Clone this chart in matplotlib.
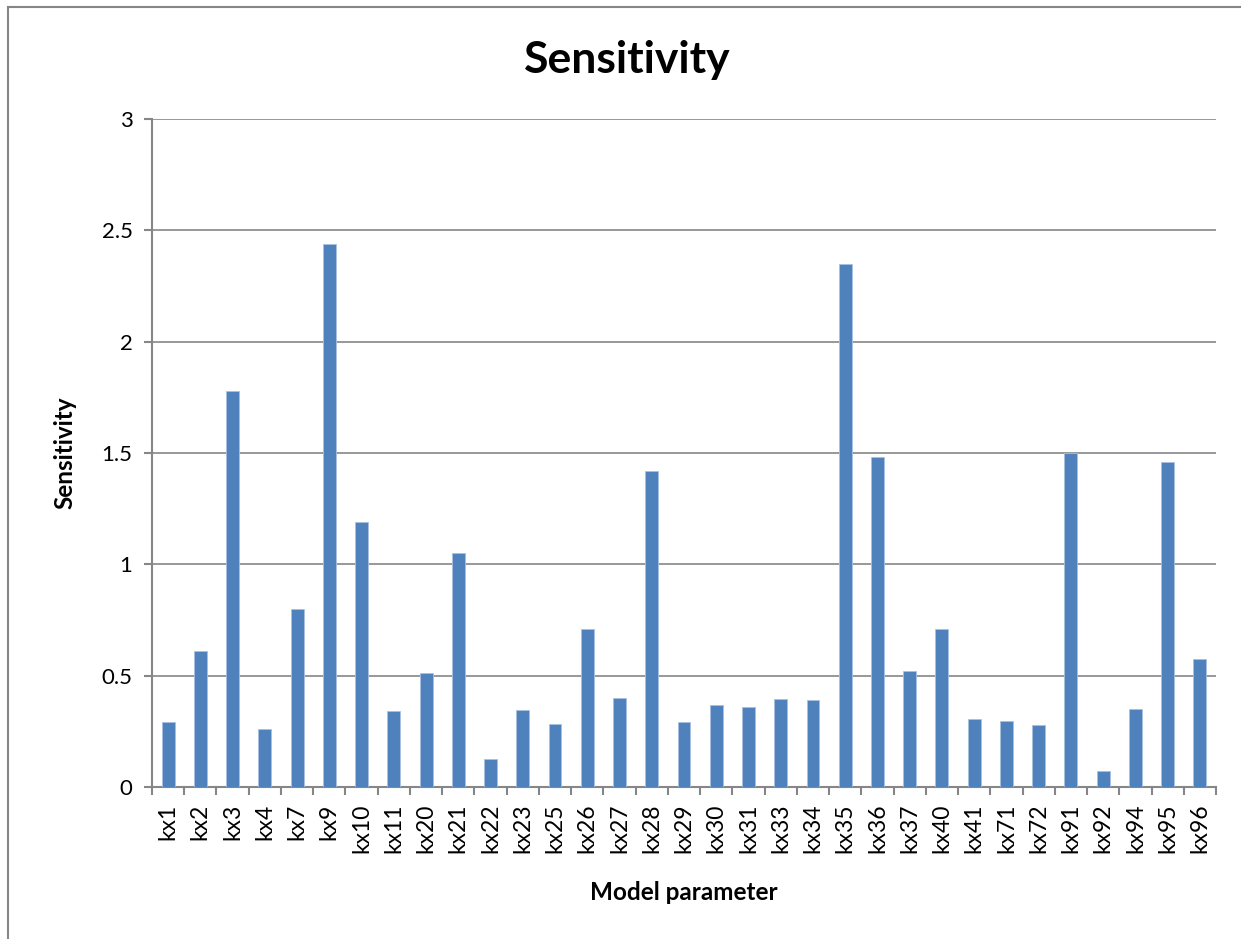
import numpy as np
import matplotlib.pyplot as plt
from matplotlib.lines import Line2D

params = ['kx1', 'kx2', 'kx3', 'kx4', 'kx7', 'kx9', 'kx10', 'kx11', 'kx20', 'kx21',
          'kx22', 'kx23', 'kx25', 'kx26', 'kx27', 'kx28', 'kx29', 'kx30', 'kx31', 'kx33',
          'kx34', 'kx35', 'kx36', 'kx37', 'kx40', 'kx41', 'kx71', 'kx72', 'kx91', 'kx92',
          'kx94', 'kx95', 'kx96']
sens = [0.29, 0.61, 1.78, 0.26, 0.80, 2.44, 1.19, 0.34, 0.51, 1.05,
        0.125, 0.346, 0.283, 0.71, 0.40, 1.42, 0.29, 0.368, 0.36, 0.395,
        0.39, 2.35, 1.48, 0.52, 0.71, 0.305, 0.296, 0.28, 1.50, 0.07,
        0.35, 1.46, 0.575]

plt.rcParams['font.family'] = ['Lato', 'DejaVu Sans']
grey = '#868686'

fig = plt.figure(figsize=(12.41, 9.39), dpi=100)
ax = fig.add_axes([152 / 1241, 1 - 787 / 939, (1216 - 152) / 1241, (787 - 119) / 939])

x = np.arange(len(params))
ax.bar(x, sens, width=0.4, color='#4F81BD', edgecolor='#A9C1E0', linewidth=0.6, zorder=3)

ax.set_xlim(-0.5, len(params) - 0.5)
ax.set_ylim(0, 3)
ax.set_yticks([0, 0.5, 1, 1.5, 2, 2.5, 3])
ax.set_yticklabels(['0', '0.5', '1', '1.5', '2', '2.5', '3'], fontsize=16)
ax.yaxis.grid(True, color=grey, linewidth=1.2, zorder=0)

ax.set_xticks(x)
ax.set_xticklabels(params, rotation=90, fontsize=16.5)
ax.tick_params(axis='x', length=0, pad=12)
ax.set_xticks(np.arange(len(params) + 1) - 0.5, minor=True)
ax.tick_params(axis='x', which='minor', length=6, width=1.5, color=grey)
ax.tick_params(axis='y', length=6, width=1.5, color=grey, pad=8)

for s in ['top', 'right']:
    ax.spines[s].set_visible(False)
for s in ['left', 'bottom']:
    ax.spines[s].set_color(grey)
    ax.spines[s].set_linewidth(1.5)

ax.set_xlabel('Model parameter', fontsize=17.5, fontweight='bold', labelpad=20)
ax.set_ylabel('Sensitivity', fontsize=17.5, fontweight='bold', labelpad=18)
fig.text(627 / 1241, 1 - 60 / 939, 'Sensitivity', fontsize=32,
         fontweight='bold', ha='center', va='center')

# outer chart frame
fig.add_artist(Line2D([8 / 1241, 8 / 1241], [0, 1 - 7 / 939], color=grey, linewidth=1.5))
fig.add_artist(Line2D([8 / 1241, 1], [1 - 7 / 939, 1 - 7 / 939], color=grey, linewidth=1.5))

fig.savefig('out.png', dpi=100)
